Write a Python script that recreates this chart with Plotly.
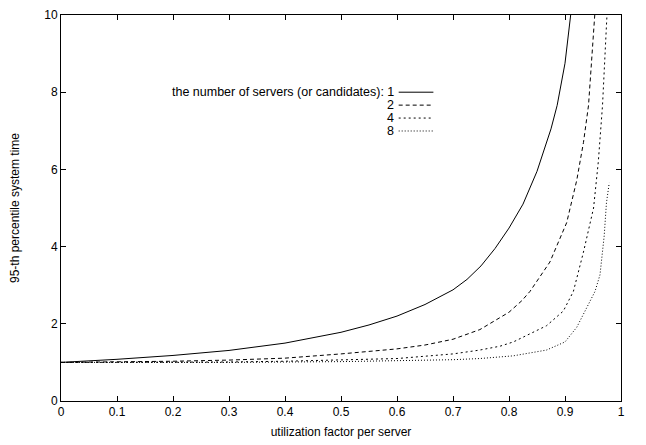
import plotly.graph_objects as go

# utilization factor (x) and 95-th percentile system time (y)
x_1 = [0.0, 0.1, 0.2, 0.3, 0.4, 0.5, 0.55, 0.6, 0.65, 0.7, 0.725, 0.75, 0.775, 0.8, 0.825, 0.85, 0.875, 0.886, 0.9, 0.911, 0.915]
y_1 = [1.0, 1.08, 1.18, 1.31, 1.50, 1.78, 1.97, 2.20, 2.50, 2.88, 3.15, 3.50, 3.95, 4.48, 5.10, 5.95, 7.05, 7.66, 8.75, 10.0, 10.6]

x_2 = [0.0, 0.1, 0.2, 0.3, 0.4, 0.5, 0.6, 0.65, 0.7, 0.748, 0.784, 0.8, 0.823, 0.8375, 0.873, 0.903, 0.921, 0.933, 0.942, 0.953, 0.956]
y_2 = [1.0, 1.01, 1.03, 1.06, 1.11, 1.22, 1.35, 1.45, 1.60, 1.85, 2.15, 2.30, 2.60, 2.84, 3.60, 4.62, 5.72, 6.70, 7.66, 10.0, 10.6]

x_4 = [0.0, 0.2, 0.3, 0.4, 0.5, 0.6, 0.7, 0.748, 0.784, 0.8077, 0.867, 0.897, 0.915, 0.933, 0.951, 0.9595, 0.967, 0.975, 0.977]
y_4 = [1.0, 1.0, 1.01, 1.03, 1.06, 1.10, 1.22, 1.32, 1.42, 1.53, 1.95, 2.33, 2.84, 3.86, 5.0, 6.2, 7.66, 10.0, 10.6]

x_8 = [0.0, 0.3, 0.5, 0.6, 0.7, 0.748, 0.8077, 0.867, 0.9, 0.921, 0.9387, 0.9536, 0.9625, 0.970, 0.974, 0.979]
y_8 = [1.0, 1.0, 1.02, 1.04, 1.07, 1.10, 1.17, 1.32, 1.53, 1.91, 2.42, 2.84, 3.27, 4.28, 5.13, 5.65]

x_ticks = [0, 0.1, 0.2, 0.3, 0.4, 0.5, 0.6, 0.7, 0.8, 0.9, 1]
x_tick_labels = ["0", "0.1", "0.2", "0.3", "0.4", "0.5", "0.6", "0.7", "0.8", "0.9", "1"]
y_ticks = [0, 2, 4, 6, 8, 10]

key_title = "the number of servers (or candidates): "
key_labels = ["1", "2", "4", "8"]

series = [(x_1, y_1, "solid"), (x_2, y_2, "4px,3px"), (x_4, y_4, "2px,3px"), (x_8, y_8, "1px,2px")]

FONT = "Liberation Sans, Arial, Helvetica, sans-serif"
FS = 12

fig = go.Figure()
for (xs, ys, dash), lab in zip(series, key_labels):
    fig.add_trace(go.Scatter(x=xs, y=ys, mode="lines", name=lab,
                             line=dict(color="black", width=1, dash=dash),
                             showlegend=False, hoverinfo="skip"))

# gnuplot-style key: right-aligned text followed by a line sample
key_x_text = 0.597
key_x0, key_x1 = 0.603, 0.665
key_rows = [8.0, 7.665, 7.33, 6.995]
for i, ((xs, ys, dash), lab) in enumerate(zip(series, key_labels)):
    txt = (key_title + lab) if i == 0 else lab
    fig.add_annotation(x=key_x_text, y=key_rows[i], xref="x", yref="y", text=txt,
                       showarrow=False, xanchor="right", yanchor="middle", borderpad=0,
                       font=dict(family=FONT, size=12.5, color="black"))
    fig.add_shape(type="line", xref="x", yref="y", x0=key_x0, x1=key_x1,
                  y0=key_rows[i], y1=key_rows[i],
                  line=dict(color="black", width=1, dash=dash))

axis_common = dict(showgrid=False, zeroline=False, showline=True, linecolor="black",
                   linewidth=1, mirror="ticks", ticks="inside", ticklen=5,
                   tickcolor="black", tickwidth=1,
                   tickfont=dict(family=FONT, size=FS, color="black"))

fig.update_xaxes(range=[0, 1], tickvals=x_ticks, ticktext=x_tick_labels,
                 title=dict(text="utilization factor per server", standoff=9,
                            font=dict(family=FONT, size=FS, color="black")),
                 **axis_common)
fig.update_yaxes(range=[0, 10], tickvals=y_ticks,
                 title=dict(text="95-th percentile system time", standoff=22,
                            font=dict(family=FONT, size=FS, color="black")),
                 **axis_common)

fig.update_layout(width=646, height=445,
                  margin=dict(l=61, r=25, t=8, b=43),
                  plot_bgcolor="white", paper_bgcolor="white",
                  hovermode=False,
                  font=dict(family=FONT, size=FS, color="black"))

fig.write_html("out.html",
               config={"displayModeBar": False, "staticPlot": True},
               post_script="document.body.style.margin='0px';document.body.style.overflow='hidden';")
